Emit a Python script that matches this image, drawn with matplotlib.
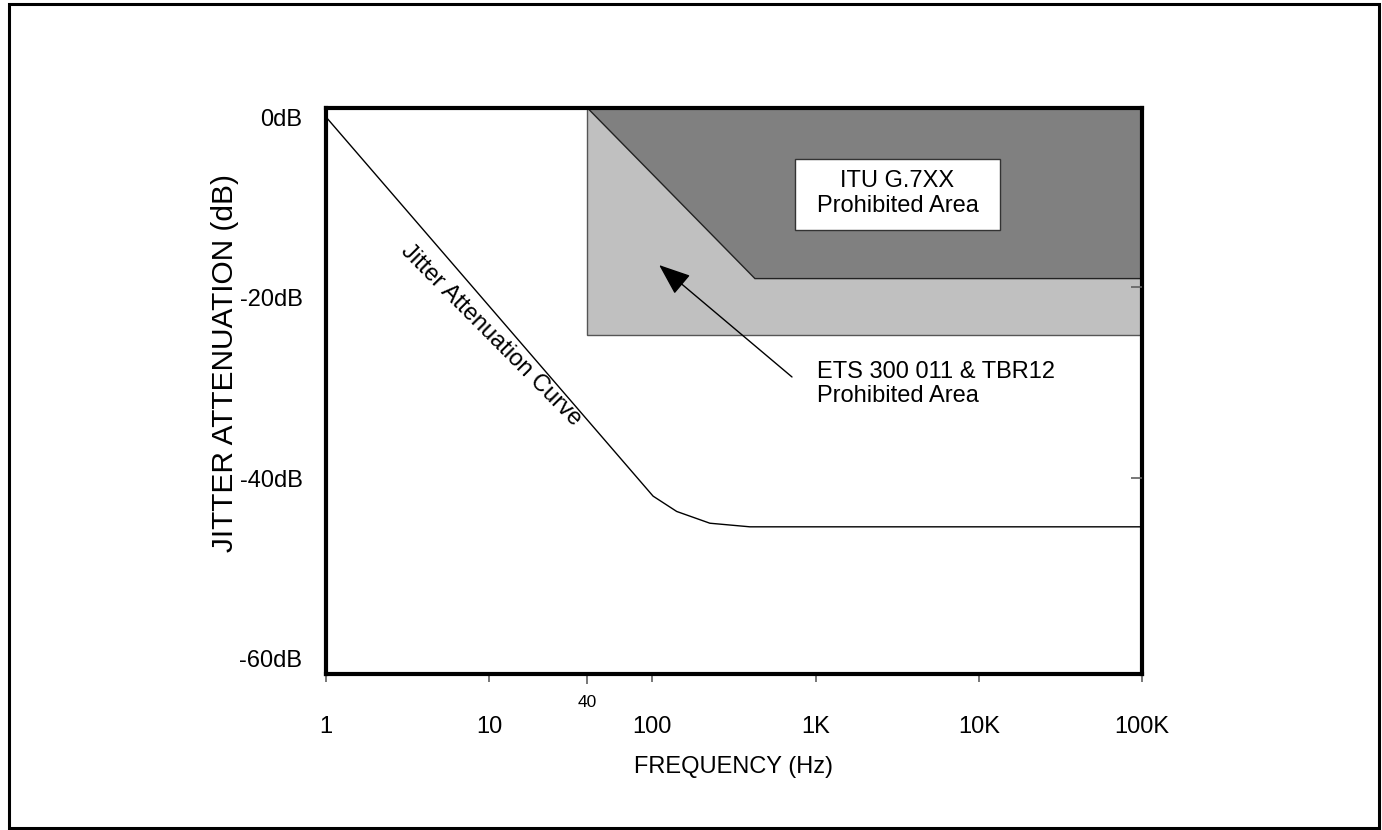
import matplotlib.pyplot as plt
import matplotlib.patches as patches
import numpy as np

plt.rcParams['font.family'] = ['Liberation Sans', 'DejaVu Sans']

# jitter attenuation curve (Hz, dB)
curve_freq = [1, 101, 141, 225, 396, 100000]
curve_db = [0, -42.0, -43.7, -45.0, -45.4, -45.4]

# ITU G.7XX prohibited area (dark)
itu_freq = [40, 425, 100000, 100000]
itu_db = [1.0, -17.9, -17.9, 1.0]

# ETS 300 011 & TBR12 prohibited area (light)
ets_freq = [40, 100000, 100000, 40]
ets_db = [1.0, 1.0, -24.2, -24.2]

x_ticks = [1, 10, 100, 1000, 10000, 100000]
x_labels = ['1', '10', '100', '1K', '10K', '100K']
y_ticks = [0, -20, -40, -60]
y_labels = ['0dB', '-20dB', '-40dB', '-60dB']
right_ticks = [-18.8, -40.0]

fs = 17

fig = plt.figure(figsize=(13.82, 8.30), dpi=100)
ax = fig.add_axes([0.2359, 0.1880, 0.5904, 0.6819])
ax.set_xscale('log')
ax.set_xlim(1, 100000)
ax.set_ylim(-61.7, 1.0)

# masks
ax.fill(ets_freq, ets_db, facecolor='#c0c0c0', edgecolor='#555555', lw=1)
ax.fill(itu_freq, itu_db, facecolor='#808080', edgecolor='#222222', lw=1)

# curve
ax.plot(curve_freq, curve_db, color='black', lw=1)

# label along the sloped part of the curve (a little flatter than the line)
p1 = ax.transData.transform((curve_freq[0], curve_db[0]))
p2 = ax.transData.transform((curve_freq[1], curve_db[1]))
angle = np.degrees(np.arctan2(p2[1] - p1[1], p2[0] - p1[0])) + 4
ax.text(10.2, -24.2, 'Jitter Attenuation Curve', rotation=angle,
        rotation_mode='anchor', ha='center', va='center', fontsize=fs)

# ITU label box
ax.add_patch(patches.Rectangle((748, -12.5), 13490 - 748, 7.85,
                               facecolor='white', edgecolor='#333333', lw=1))
ax.text(np.sqrt(748 * 13490), -8.5, 'ITU G.7XX\nProhibited Area',
        ha='center', va='center', fontsize=fs, linespacing=1.15)

# ETS label with arrow
ax.text(1020, -29.6, 'ETS 300 011 & TBR12\nProhibited Area',
        ha='left', va='center', fontsize=fs, linespacing=1.15)
ax.annotate('', xy=(110, -16.4), xytext=(717, -28.8),
            arrowprops=dict(arrowstyle='-|>,head_length=0.9,head_width=0.35',
                            color='black', lw=1, mutation_scale=22,
                            shrinkA=0, shrinkB=0))

# axes
ax.set_xticks(x_ticks, labels=x_labels)
ax.set_xticks([40], labels=['40'], minor=True)
ax.tick_params(axis='x', which='major', length=6, width=1.2, color='#606060',
               labelsize=fs, pad=24)
ax.tick_params(axis='x', which='minor', length=7.5, width=1.2, color='#606060',
               labelsize=12.5, pad=8)
ax.set_yticks(y_ticks, labels=y_labels)
ax.tick_params(axis='y', length=0, labelsize=fs, pad=17)
for s in ax.spines.values():
    s.set_linewidth(3)

ax2 = ax.twinx()
ax2.set_ylim(ax.get_ylim())
ax2.set_yticks(right_ticks)
ax2.tick_params(axis='y', direction='in', length=8, width=1.2, color='#606060',
                labelright=False)
for s in ax2.spines.values():
    s.set_visible(False)

ax.set_xlabel('FREQUENCY (Hz)', fontsize=fs, labelpad=13)
ax.set_ylabel('JITTER ATTENUATION (dB)', fontsize=21.5)
ax.yaxis.set_label_coords(-0.107, 0.55)

# outer frame
fig.add_artist(patches.Rectangle((9 / 1382, 0.002), 1370 / 1382, 0.993,
                                 transform=fig.transFigure, fill=False,
                                 edgecolor='black', lw=2.2))

fig.savefig('out.png', dpi=100)
